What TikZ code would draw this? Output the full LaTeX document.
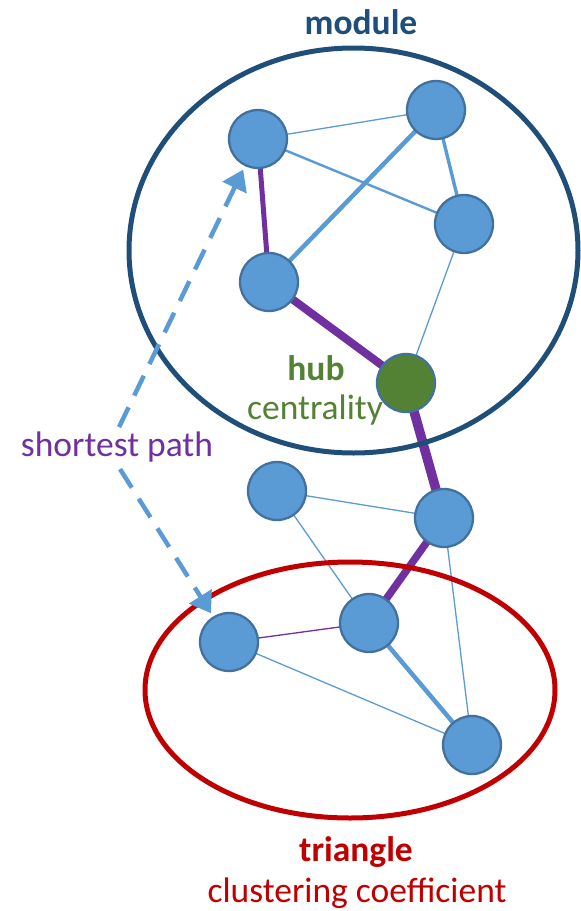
\documentclass[tikz,border=0pt]{standalone}
\usepackage{fontspec}
\setmainfont{Carlito}
\usetikzlibrary{arrows.meta,calc,shapes.geometric}
\definecolor{nodeblue}{HTML}{5B9BD5}
\definecolor{nodeedge}{HTML}{41719C}
\definecolor{hubgreen}{HTML}{548235}
\definecolor{pathpurple}{HTML}{7030A0}
\definecolor{moduleblue}{HTML}{1F4E79}
\definecolor{trired}{HTML}{C00000}
\tikzset{
  vertex/.style={circle, fill=nodeblue, draw=nodeedge, line width=2.3pt, minimum size=58pt, inner sep=0pt},
  hubvertex/.style={vertex, fill=hubgreen},
  thinlink/.style={draw=nodeblue, line width=1.3pt},
  midlink/.style={draw=nodeblue, line width=2.4pt},
  boldlink/.style={draw=nodeblue, line width=4.5pt},
  plink/.style={draw=pathpurple},
  label/.style={font=\fontsize{35.5}{38}\selectfont, inner sep=0pt},
  boldlabel/.style={font=\fontsize{35.5}{38}\selectfont\bfseries, inner sep=0pt},
}
\begin{document}
\begin{tikzpicture}[x=1pt, y=-1pt]
\useasboundingbox (0,0) rectangle (581,911);

% vertex positions (nodes are drawn after the links)
\coordinate (pA) at (258,139);
\coordinate (pB) at (436,110);
\coordinate (pC) at (464,224);
\coordinate (pD) at (269,282);
\coordinate (pG) at (406,383);
\coordinate (pE) at (277,491);
\coordinate (pF) at (444,518);
\coordinate (pI) at (369,623);
\coordinate (pH) at (229,642);
\coordinate (pJ) at (472,745);

% links
\draw[thinlink] (pA) -- (pB);
\draw[midlink] (pA) -- (pC);
\draw[boldlink] (pB) -- (pD);
\draw[midlink, line width=3.4pt] (pB) -- (pC);
\draw[thinlink] (pC) -- (pG);
\draw[thinlink] (pE) -- (pF);
\draw[thinlink] (pE) -- (pI);
\draw[thinlink] (pF) -- (pJ);
\draw[thinlink] (pH) -- (pJ);
\draw[boldlink] (pI) -- (pJ);
\draw[plink, line width=1.3pt] (pI) -- (pH);
\draw[plink, line width=5pt] (pA) -- (pD);
\draw[plink, line width=8pt] (pD) -- (pG);
\draw[plink, line width=9.5pt] (pG) -- (pF);
\draw[plink, line width=7.5pt] (pF) -- (pI);

% vertices
\node[vertex] (A) at (pA) {};
\node[vertex] (B) at (pB) {};
\node[vertex] (C) at (pC) {};
\node[vertex] (D) at (pD) {};
\node[hubvertex] (G) at (pG) {};
\node[vertex] (E) at (pE) {};
\node[vertex] (F) at (pF) {};
\node[vertex] (I) at (pI) {};
\node[vertex] (H) at (pH) {};
\node[vertex] (J) at (pJ) {};

% groups
\node[draw=moduleblue, line width=5pt, ellipse, minimum width=449pt, minimum height=405pt, inner sep=0pt] (module) at (353.5,250.5) {};
\node[draw=trired, line width=5pt, ellipse, minimum width=410pt, minimum height=256pt, inner sep=0pt] (tri) at (350,690) {};

% shortest path indicator
\coordinate (bend) at (108,450);
\coordinate (tipA) at ($(pA)+(-0.436*34,0.900*34)$);
\coordinate (tipH) at ($(pH)+(-0.53*34,-0.846*34)$);
\draw[draw=nodeblue, line width=4.5pt, dash pattern=on 22pt off 13pt,
      arrows={Triangle[length=20pt,width=26pt]-Triangle[length=20pt,width=26pt]}]
  (tipA) -- (bend) -- (tipH);
\node[label, text=pathpurple, fill=white, inner sep=3pt] (sp) at (117,447) {shortest path};

% captions
\node[boldlabel, text=moduleblue] (modtxt) at (361,22) {module};
\node[boldlabel, text=hubgreen] (hubtxt) at (316,368) {hub};
\node[label, text=hubgreen] (centtxt) at (315,410) {centrality};
\node[boldlabel, text=trired] (tritxt) at (356,852) {triangle};
\node[label, text=trired] (cctxt) at (357,893) {clustering coefficient};
\end{tikzpicture}
\end{document}
